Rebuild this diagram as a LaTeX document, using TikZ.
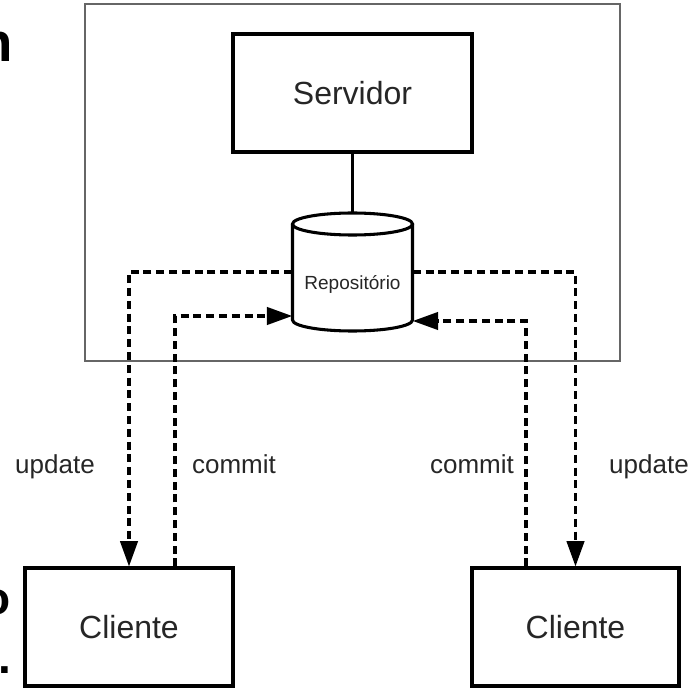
\documentclass[tikz,border=0pt]{standalone}
\usepackage{fontspec}
\setmainfont{Liberation Sans}
\usetikzlibrary{arrows.meta,calc}
\begin{document}
\begin{tikzpicture}[x=0.75pt,y=-0.75pt,
  box/.style={draw=black,line width=2.3pt,fill=white,inner sep=0pt,font=\fontsize{24}{28}\selectfont,text=black!85},
  dl/.style={draw=black,line width=2.4pt,dash pattern=on 6pt off 3.6pt,-{Triangle[length=19pt,width=13pt]}},
  lbl/.style={font=\fontsize{19.5}{23}\selectfont,text=black!85,anchor=base,inner sep=0pt},
  frag/.style={font=\bfseries\fontsize{41}{45}\selectfont,anchor=base east,inner sep=0pt}]
\useasboundingbox (0,0) rectangle (693,688);
% text fragments cut at the left edge
\node[frag] (f1) at (13,62) {n};
\node[frag,font=\bfseries\fontsize{34.5}{40}\selectfont] (f2) at (10.5,614) {o};
\node[frag,font=\bfseries\fontsize{34.5}{40}\selectfont] (f3) at (11.5,673) {.};
% system frame
\node[draw=black!60,line width=1.3pt,minimum width=401.25pt,minimum height=267.75pt,inner sep=0pt] (sys) at (352.5,182.5) {};
% server
\node[box,minimum width=179.25pt,minimum height=88.5pt] (srv) at (352.5,93) {Servidor};
% repository cylinder
\draw[line width=2.3pt,draw=black,fill=white] (292.5,224) -- (292.5,320)
  arc[start angle=180,end angle=360,x radius=45pt,y radius=8.25pt] -- (412.5,224);
\draw[line width=2.3pt,draw=black,fill=white] (352.5,224) ellipse[x radius=45pt,y radius=8.25pt];
\coordinate (repotop) at (352.5,213);
\node[font=\fontsize{14.25}{17}\selectfont,text=black!85,anchor=base,inner sep=0pt,minimum width=90pt] (repo) at (352.5,290) {Repositório};
\draw[line width=2.3pt,draw=black] (srv.south) -- (repotop);
% clients
\node[box,minimum width=156pt,minimum height=88.5pt] (cl1) at (129,627) {Cliente};
\node[box,minimum width=155.25pt,minimum height=88.5pt] (cl2) at (575.5,627) {Cliente};
% connectors
\draw[dl] (repo.west |- 0,272) -| (cl1.north);
\draw[dl] (cl1.north -| 175,0) |- (repo.west |- 0,316);
\draw[dl] (cl2.north -| 526,0) |- (repo.east |- 0,321);
\draw[dl] (repo.east |- 0,272) -| (cl2.north);
% labels
\node[lbl] (l1) at (55,473) {update};
\node[lbl] (l2) at (234,473) {commit};
\node[lbl] (l3) at (472,473) {commit};
\node[lbl] (l4) at (649,473) {update};
\end{tikzpicture}
\end{document}
